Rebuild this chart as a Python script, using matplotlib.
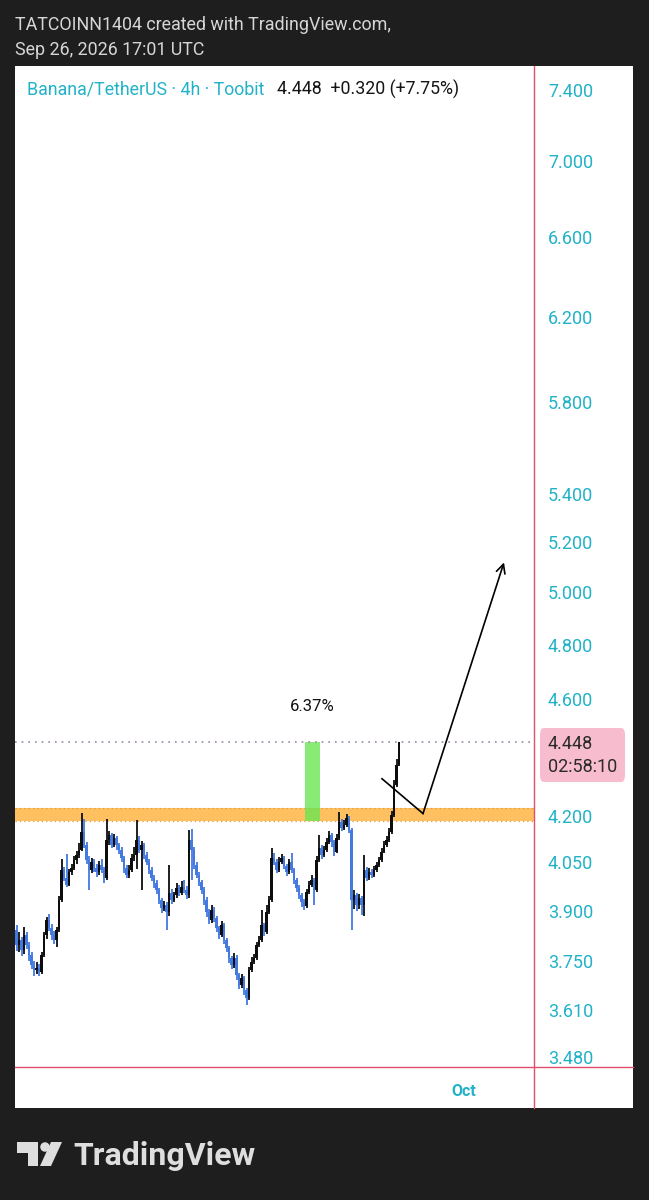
import matplotlib
matplotlib.use("Agg")
import matplotlib.pyplot as plt
from matplotlib.lines import Line2D
from matplotlib.patches import Rectangle, FancyBboxPatch, Polygon, Ellipse
from matplotlib.ticker import NullLocator
import numpy as np
import pandas as pd

plt.rcParams["font.family"] = ["Roboto", "DejaVu Sans"]

# ---- data (4h candles, Banana/USDT) ----
first_open = 3.842
closes = [
    3.797, 3.812, 3.783, 3.827, 3.797, 3.768, 3.739, 3.724, 3.730, 3.718,
    3.768, 3.827, 3.872, 3.848, 3.827, 3.812, 3.842, 3.933, 4.027, 4.002,
    3.980, 4.020, 4.033, 4.058, 4.074, 4.090, 4.148, 4.106, 4.058, 4.027,
    4.052, 4.033, 4.020, 4.042, 4.027, 4.002, 4.122, 4.138, 4.106, 4.128,
    4.106, 4.090, 4.064, 4.033, 4.011, 4.027, 4.064, 4.074, 4.122, 4.090,
    4.106, 4.074, 4.052, 4.027, 4.002, 3.986, 3.964, 3.933, 3.909, 3.918,
    3.897, 3.955, 3.933, 3.949, 3.970, 3.955, 3.973, 3.964, 3.949, 4.122,
    4.090, 4.042, 4.011, 3.989, 3.964, 3.933, 3.897, 3.872, 3.903, 3.878,
    3.848, 3.827, 3.857, 3.812, 3.789, 3.759, 3.739, 3.759, 3.709, 3.681,
    3.701, 3.666, 3.643, 3.724, 3.748, 3.759, 3.797, 3.812, 3.857, 3.836,
    3.897, 3.933, 4.064, 4.052, 4.027, 4.052, 4.064, 4.039, 4.020, 4.052,
    4.027, 3.995, 3.970, 3.949, 3.927, 3.915, 3.958, 3.980, 3.995, 3.964,
    4.058, 4.096, 4.074, 4.090, 4.116, 4.138, 4.116, 4.084, 4.128, 4.180,
    4.161, 4.171, 4.193, 4.154, 3.933, 3.949, 3.918, 3.939, 3.918, 4.027,
    4.002, 4.020, 4.011, 4.027, 4.042, 4.058, 4.084, 4.106, 4.122, 4.148,
    4.203, 4.303, 4.371, 4.448,
]
highs = [
    3.857, 3.835, 3.820, 3.850, 3.835, 3.805, 3.775, 3.750, 3.748, 3.742,
    3.775, 3.835, 3.880, 3.890, 3.860, 3.840, 3.850, 3.945, 4.060, 4.035,
    4.075, 4.030, 4.045, 4.070, 4.085, 4.110, 4.210, 4.190, 4.115, 4.070,
    4.065, 4.060, 4.045, 4.055, 4.062, 4.035, 4.190, 4.150, 4.145, 4.140,
    4.135, 4.112, 4.100, 4.070, 4.040, 4.040, 4.075, 4.098, 4.187, 4.135,
    4.118, 4.110, 4.082, 4.060, 4.035, 4.010, 3.995, 3.970, 3.940, 3.930,
    3.925, 4.042, 3.965, 3.958, 3.985, 3.978, 3.990, 3.995, 3.975, 4.154,
    4.157, 4.098, 4.050, 4.020, 3.995, 3.972, 3.942, 3.905, 3.918, 3.910,
    3.885, 3.855, 3.868, 3.862, 3.818, 3.795, 3.765, 3.772, 3.766, 3.715,
    3.712, 3.706, 3.672, 3.732, 3.760, 3.770, 3.805, 3.825, 3.903, 3.862,
    3.918, 3.945, 4.096, 4.080, 4.060, 4.068, 4.075, 4.070, 4.045, 4.062,
    4.078, 4.032, 4.002, 3.978, 3.955, 3.935, 3.968, 3.992, 4.010, 4.000,
    4.070, 4.138, 4.105, 4.102, 4.128, 4.150, 4.145, 4.122, 4.140, 4.213,
    4.190, 4.185, 4.207, 4.200, 4.160, 3.962, 3.955, 3.950, 3.945, 4.074,
    4.035, 4.032, 4.028, 4.038, 4.052, 4.068, 4.096, 4.118, 4.135, 4.160,
    4.215, 4.320, 4.390, 4.450,
]
lows = [
    3.780, 3.775, 3.765, 3.770, 3.785, 3.750, 3.725, 3.705, 3.712, 3.705,
    3.712, 3.760, 3.815, 3.838, 3.812, 3.800, 3.790, 3.835, 3.925, 3.990,
    3.972, 3.975, 4.010, 4.025, 4.045, 4.065, 4.085, 4.095, 4.045, 3.964,
    4.015, 4.020, 4.005, 4.010, 4.015, 3.985, 3.995, 4.105, 4.095, 4.098,
    4.090, 4.075, 4.050, 4.015, 4.000, 4.002, 4.020, 4.055, 4.030, 4.080,
    3.964, 4.060, 4.040, 4.012, 3.990, 3.970, 3.950, 3.920, 3.892, 3.898,
    3.842, 3.885, 3.920, 3.925, 3.940, 3.945, 3.948, 3.955, 3.935, 3.940,
    3.995, 4.030, 4.000, 3.975, 3.950, 3.918, 3.880, 3.860, 3.862, 3.866,
    3.835, 3.815, 3.820, 3.800, 3.775, 3.745, 3.725, 3.730, 3.695, 3.668,
    3.672, 3.652, 3.624, 3.638, 3.718, 3.740, 3.752, 3.790, 3.805, 3.825,
    3.830, 3.890, 3.925, 4.040, 4.015, 4.020, 4.045, 4.028, 4.008, 4.012,
    4.015, 3.982, 3.958, 3.935, 3.912, 3.903, 3.908, 3.950, 3.972, 3.918,
    3.958, 4.050, 4.062, 4.066, 4.082, 4.108, 4.100, 4.070, 4.078, 4.120,
    4.150, 4.152, 4.162, 4.145, 3.842, 3.905, 3.900, 3.905, 3.887, 3.884,
    3.990, 3.995, 4.000, 4.004, 4.020, 4.035, 4.050, 4.078, 4.100, 4.115,
    4.140, 4.196, 4.296, 4.365,
]
last_bar = "2026-09-26 16:00"
price_ticks = [3.48, 3.61, 3.75, 3.90, 4.05, 4.20, 4.60, 4.80, 5.00,
               5.20, 5.40, 5.80, 6.20, 6.60, 7.00, 7.40]
zone = (4.1815, 4.226)          # orange support/resistance band
measure_x = (115.4, 121.4)      # green % measure (bar index span)
path_x = [146.2, 162.6, 195.0]  # hand-drawn projection
path_y = [4.323, 4.207, 5.118]

BG = "#1e1e1e"
CYAN = "#22b2c8"
UP = "#0d0d0d"
DOWN = "#4479e0"
RED = "#e0506c"
W, H = 649, 1200


def fx(x):
    return x / W


def fy(y):
    return 1 - y / H


fig = plt.figure(figsize=(W / 100, H / 100), dpi=100, facecolor=BG)
fig.patches.append(Rectangle((fx(15), fy(1108)), fx(633) - fx(15), fy(66) - fy(1108),
                             transform=fig.transFigure, facecolor="white",
                             edgecolor="none", zorder=-5))

ax = fig.add_axes([fx(15), fy(1067), fx(534) - fx(15), fy(66) - fy(1067)])
ax.set_zorder(1)
ax.set_facecolor("white")
for s in ax.spines.values():
    s.set_visible(False)
ax.set_yscale("log")
ax.set_ylim(3.452, 7.54)
ax.set_xlim(-0.6, 207)

c = np.array(closes)
o = np.r_[first_open, c[:-1]]
hi = np.maximum(np.array(highs), np.maximum(o, c))
lo = np.minimum(np.array(lows), np.minimum(o, c))
idx = np.arange(len(c))
cols = np.where(c >= o, UP, DOWN)
ax.vlines(idx, lo, hi, colors=cols, lw=1.3, zorder=4)
ax.bar(idx, np.abs(c - o), bottom=np.minimum(o, c), width=0.9, color=cols,
       linewidth=0, zorder=4)

# orange zone
ax.axhspan(zone[0], zone[1], color="#ffc062", lw=0, zorder=1)
for yv in zone:
    ax.axhline(yv, color="#e69a33", ls=(0, (1, 2.5)), lw=0.9, zorder=1)

# green measure box
last = c[-1]
ax.add_patch(Rectangle((measure_x[0], zone[0]), measure_x[1] - measure_x[0], last - zone[0],
                       facecolor="#66e650", alpha=0.78, lw=0, zorder=2))
pct = (last / zone[0] - 1) * 100
ax.text(sum(measure_x) / 2, 4.573, f"{pct:.2f}%", ha="center", va="center",
        fontsize=12, color="#111111")

# last price dotted line
ax.axhline(last, color="#9a88a4", ls=(0, (1, 3)), lw=1.2, zorder=2)

# drawn projection
ax.plot(path_x[:2], path_y[:2], color="black", lw=1.2, zorder=5)
ax.annotate("", xy=(path_x[2], path_y[2]), xytext=(path_x[1], path_y[1]),
            arrowprops=dict(arrowstyle="->", color="black", lw=1.2,
                            mutation_scale=16, shrinkA=0, shrinkB=0), zorder=5)

# axes ticks
ax.yaxis.tick_right()
ax.set_yticks(price_ticks, [f"{v:.3f}" for v in price_ticks])
ax.yaxis.set_minor_locator(NullLocator())
ax.tick_params(axis="y", length=0, pad=10, labelsize=13, labelcolor=CYAN)
times = pd.date_range(end=pd.Timestamp(last_bar), periods=len(c), freq="4h")
oct_idx = (pd.Timestamp("2026-10-01") - times[0]) / pd.Timedelta("4h")
ax.set_xticks([oct_idx], ["Oct"])
ax.tick_params(axis="x", length=0, pad=12, labelsize=11.5, labelcolor=CYAN)
for lbl in ax.get_xticklabels():
    lbl.set_fontweight("bold")

# scale separators
fig.add_artist(Line2D([fx(534), fx(534)], [fy(66), fy(1108)], transform=fig.transFigure,
                      color=RED, lw=1, zorder=3))
fig.add_artist(Line2D([fx(15), fx(633)], [fy(1067), fy(1067)], transform=fig.transFigure,
                      color=RED, lw=1, zorder=3))

# last price tag
fig.patches.append(FancyBboxPatch((fx(540), fy(782)), fx(625) - fx(540), fy(728) - fy(782),
                                  boxstyle="round,pad=0,rounding_size=0.006",
                                  transform=fig.transFigure, facecolor="#f7bccd",
                                  edgecolor="none", zorder=3))
fig.text(fx(548), fy(749), f"{last:.3f}", fontsize=13, color="#2a2a2a", zorder=4)
fig.text(fx(548), fy(772), "02:58:10", fontsize=13, color="#2a2a2a", zorder=4)

# header / legend
fig.text(fx(15), fy(30), "TATCOINN1404 created with TradingView.com,", fontsize=12.9,
         color="#d6d6d6", va="baseline")
fig.text(fx(15), fy(55), "Sep 26, 2026 17:01 UTC", fontsize=12.9, color="#d6d6d6",
         va="baseline")
fig.text(fx(27), fy(95), "Banana/TetherUS · 4h · Toobit", fontsize=12.8, color=CYAN,
         va="baseline", zorder=4)
fig.text(fx(277), fy(95), "4.448  +0.320 (+7.75%)", fontsize=12.8, color="#151515",
         va="baseline", zorder=4)

# TradingView footer logo
logo = "#dedede"
fig.patches.append(Polygon([(fx(17), fy(1142)), (fx(38), fy(1142)), (fx(38), fy(1166)),
                            (fx(28), fy(1166)), (fx(28), fy(1153)), (fx(17), fy(1153))],
                           closed=True, transform=fig.transFigure, facecolor=logo, lw=0))
fig.patches.append(Ellipse((fx(45), fy(1147)), 9.5 / W, 9.5 / H, transform=fig.transFigure,
                           facecolor=logo, lw=0))
fig.patches.append(Polygon([(fx(51), fy(1142)), (fx(62), fy(1142)), (fx(51), fy(1166)),
                            (fx(40), fy(1166))], closed=True, transform=fig.transFigure,
                           facecolor=logo, lw=0))
fig.text(fx(73), fy(1165), "TradingView", fontsize=23, fontweight="bold", color=logo,
         va="baseline")

fig.savefig("out.png", dpi=100, facecolor=BG)
